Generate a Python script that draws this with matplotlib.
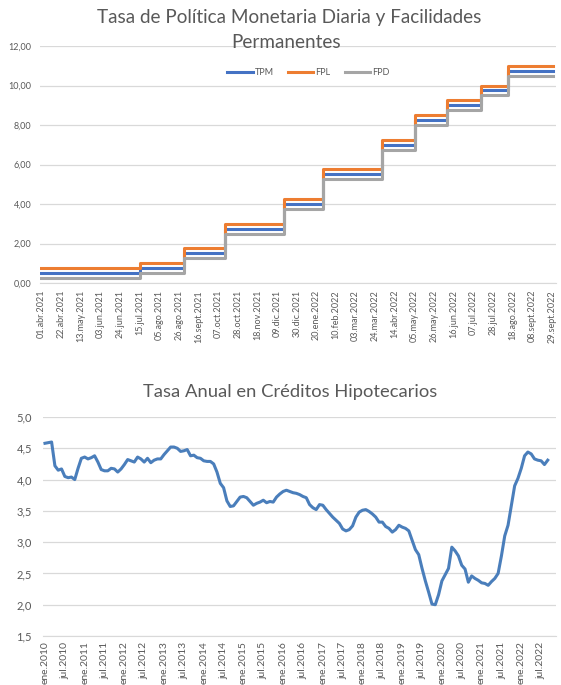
import numpy as np
import pandas as pd
import matplotlib
matplotlib.use("Agg")
import matplotlib.pyplot as plt
import matplotlib.ticker as mticker
from matplotlib.transforms import ScaledTranslation

plt.rcParams['font.family'] = ['Lato', 'DejaVu Sans']

# --- data: policy rate and standing facilities (step changes) ---
change_dates = ['2021-04-01', '2021-07-15', '2021-09-01', '2021-10-14', '2021-12-16',
                '2022-01-27', '2022-03-31', '2022-05-05', '2022-06-09', '2022-07-15',
                '2022-08-12']
tpm = [0.50, 0.75, 1.50, 2.75, 4.00, 5.50, 7.00, 8.25, 9.00, 9.75, 10.75]
fpl = [0.75, 1.00, 1.75, 3.00, 4.25, 5.75, 7.25, 8.50, 9.25, 10.00, 11.00]
fpd = [0.25, 0.50, 1.25, 2.50, 3.75, 5.25, 6.75, 8.00, 8.75, 9.50, 10.50]
start, end = '2021-04-01', '2022-09-30'

# --- data: mortgage rate, monthly ene.2010 - sept.2022 ---
hipo = [4.58, 4.59, 4.60, 4.22, 4.15, 4.17, 4.05, 4.03, 4.04, 4.00,
        4.18, 4.34, 4.36, 4.33, 4.35, 4.38, 4.28, 4.16, 4.14, 4.14,
        4.18, 4.17, 4.12, 4.17, 4.24, 4.32, 4.30, 4.28, 4.36, 4.33,
        4.28, 4.34, 4.27, 4.31, 4.33, 4.33, 4.40, 4.46, 4.52, 4.52,
        4.50, 4.45, 4.46, 4.48, 4.38, 4.39, 4.35, 4.34, 4.30, 4.29,
        4.29, 4.25, 4.12, 3.94, 3.87, 3.66, 3.57, 3.58, 3.65, 3.72,
        3.73, 3.71, 3.65, 3.59, 3.62, 3.64, 3.67, 3.63, 3.65, 3.64,
        3.72, 3.77, 3.81, 3.83, 3.81, 3.79, 3.78, 3.76, 3.73, 3.71,
        3.60, 3.55, 3.52, 3.60, 3.59, 3.52, 3.46, 3.40, 3.35, 3.30,
        3.21, 3.18, 3.20, 3.26, 3.40, 3.48, 3.51, 3.52, 3.49, 3.45,
        3.40, 3.32, 3.32, 3.25, 3.22, 3.16, 3.20, 3.27, 3.24, 3.22,
        3.18, 3.03, 2.88, 2.80, 2.58, 2.38, 2.20, 2.01, 2.00, 2.16,
        2.38, 2.48, 2.58, 2.92, 2.86, 2.78, 2.63, 2.57, 2.36, 2.46,
        2.42, 2.39, 2.35, 2.34, 2.31, 2.37, 2.42, 2.50, 2.78, 3.10,
        3.27, 3.58, 3.90, 4.02, 4.18, 4.38, 4.44, 4.41, 4.33, 4.31,
        4.30, 4.24, 4.31]

meses = ['ene', 'feb', 'mar', 'abr', 'may', 'jun', 'jul', 'ago', 'sept', 'oct', 'nov', 'dic']
gray_txt = '#595959'
grid_c = '#d9d9d9'

days = pd.bdate_range(start, end)
idx = pd.to_datetime(change_dates)
series = {}
for name, vals in [('TPM', tpm), ('FPL', fpl), ('FPD', fpd)]:
    s = pd.Series(vals, index=idx).reindex(days, method='ffill')
    series[name] = s.values
colors = {'TPM': '#4472c4', 'FPL': '#ed7d31', 'FPD': '#a5a5a5'}

fig = plt.figure(figsize=(5.61, 6.85), dpi=100)

# ---------- top chart ----------
ax1 = fig.add_axes([40/561, 1-283/685, 516/561, 237/685])
x = np.arange(len(days))
for name in ['TPM', 'FPL', 'FPD']:
    ax1.plot(x, series[name], drawstyle='steps-post', color=colors[name], lw=2.2, label=name)
ax1.set_ylim(0, 12)
ax1.set_xlim(-1, len(days) + 1)
ax1.yaxis.set_major_locator(mticker.MultipleLocator(2))
ax1.yaxis.set_major_formatter(mticker.FuncFormatter(lambda v, p: f"{v:.2f}".replace('.', ',')))
tick_pos = x[::15]
ax1.set_xticks(tick_pos)
ax1.set_xticklabels([f"{d.day:02d}.{meses[d.month-1]}.{d.year}" for d in days[::15]],
                    rotation=90, fontsize=6.5, color=gray_txt)
shift1 = ScaledTranslation(4/100, 0, fig.dpi_scale_trans)
for lab in ax1.get_xticklabels():
    lab.set_transform(lab.get_transform() + shift1)
ax1.tick_params(axis='y', labelsize=6.5, labelcolor=gray_txt, length=0, pad=6)
ax1.tick_params(axis='x', length=0, pad=5)
ax1.grid(axis='y', color=grid_c, lw=0.9)
ax1.set_axisbelow(True)
for sp in ['top', 'right', 'left']:
    ax1.spines[sp].set_visible(False)
ax1.spines['bottom'].set_color(grid_c)
ax1.legend(loc='upper center', bbox_to_anchor=(0.52, 0.94), ncol=3, frameon=False,
           fontsize=6.5, labelcolor=gray_txt, handlelength=2.8, handletextpad=0.2,
           columnspacing=1.6)
fig.text(0.515, 1-17/685, 'Tasa de Política Monetaria Diaria y Facilidades',
         ha='center', va='center', fontsize=13.6, color=gray_txt)
fig.text(0.51, 1-42/685, 'Permanentes', ha='center', va='center', fontsize=13.6, color=gray_txt)

# ---------- bottom chart ----------
ax2 = fig.add_axes([43/561, 1-636/685, 513/561, 219/685])
m = np.arange(len(hipo))
ax2.plot(m, hipo, color='#4a7ebb', lw=2.2)
ax2.set_ylim(1.5, 5.0)
ax2.set_xlim(-0.6, len(hipo) + 1.5)
ax2.yaxis.set_major_locator(mticker.MultipleLocator(0.5))
ax2.yaxis.set_major_formatter(mticker.FuncFormatter(lambda v, p: f"{v:.1f}".replace('.', ',')))
xt = m[::6]
ax2.set_xticks(xt)
ax2.set_xticklabels([f"{meses[k % 12]}.{2010 + k // 12}" for k in xt],
                    rotation=90, fontsize=7.5, color=gray_txt)
shift2 = ScaledTranslation(3/100, 0, fig.dpi_scale_trans)
for lab in ax2.get_xticklabels():
    lab.set_transform(lab.get_transform() + shift2)
ax2.tick_params(axis='y', labelsize=8, labelcolor=gray_txt, length=0, pad=8)
ax2.tick_params(axis='x', length=0, pad=4)
ax2.grid(axis='y', color=grid_c, lw=0.9)
ax2.set_axisbelow(True)
for sp in ['top', 'right', 'left']:
    ax2.spines[sp].set_visible(False)
ax2.spines['bottom'].set_color(grid_c)
fig.text(0.518, 1-392/685, 'Tasa Anual en Créditos Hipotecarios',
         ha='center', va='center', fontsize=13.2, color=gray_txt)

fig.savefig('out.png', dpi=100)
